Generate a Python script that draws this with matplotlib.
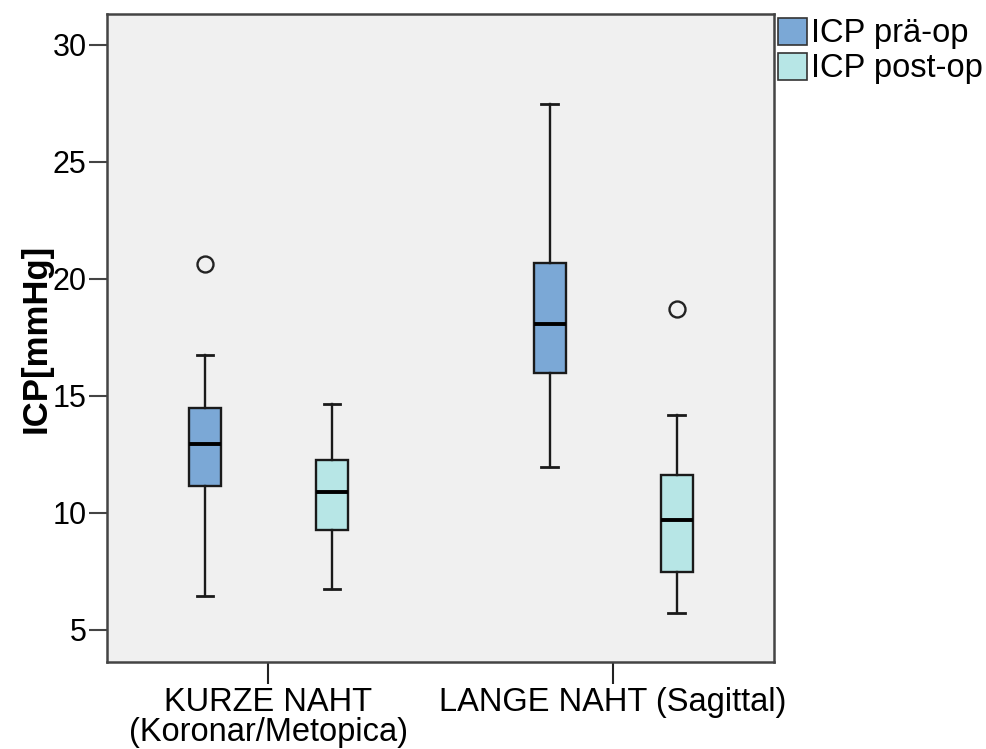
import matplotlib
matplotlib.use("Agg")
import matplotlib.pyplot as plt
from matplotlib.patches import Patch

plt.rcParams['font.family'] = ['Liberation Sans', 'DejaVu Sans']

categories = ["KURZE NAHT\n(Koronar/Metopica)", "LANGE NAHT (Sagittal)"]
series = ["ICP prä-op", "ICP post-op"]
colors = ["#7BA8D6", "#B7E6E6"]

# per category: [pre, post] -> (low whisker, Q1, median, Q3, high whisker)
whis_low = [[6.45, 6.76], [11.96, 5.73]]
q1 = [[11.15, 9.28], [15.99, 7.46]]
med = [[12.96, 10.89], [18.07, 9.69]]
q3 = [[14.47, 12.26], [20.69, 11.61]]
whis_high = [[16.73, 14.64], [27.46, 14.17]]
outliers = [[[20.63], []], [[], [18.70]]]

yticks = [5, 10, 15, 20, 25, 30]

fig = plt.figure(figsize=(9.86, 7.49), dpi=100)
ax = fig.add_axes([0.109, 0.1162, 0.676, 0.8651])
ax.set_facecolor("#F0F0F0")

offset = 0.1843
width = 0.093
for ci in range(len(categories)):
    for si in range(len(series)):
        st = dict(whislo=whis_low[ci][si], q1=q1[ci][si], med=med[ci][si],
                  q3=q3[ci][si], whishi=whis_high[ci][si], fliers=outliers[ci][si])
        pos = ci + (-offset if si == 0 else offset)
        ax.bxp([st], positions=[pos], widths=width, patch_artist=True,
               showfliers=True, capwidths=0.048,
               boxprops=dict(facecolor=colors[si], edgecolor="#1a1a1a", linewidth=1.7),
               medianprops=dict(color="black", linewidth=2.8),
               whiskerprops=dict(color="#1a1a1a", linewidth=1.7),
               capprops=dict(color="#1a1a1a", linewidth=2.0),
               flierprops=dict(marker="o", markerfacecolor="none",
                               markeredgecolor="#222222", markersize=11.5,
                               markeredgewidth=1.7))

ax.set_xlim(-0.467, 1.467)
ax.set_ylim(3.63, 31.31)
ax.set_xticks([0, 1])
ax.set_xticklabels(categories, fontsize=23.5, linespacing=0.95)
ax.set_yticks(yticks)
ax.set_yticklabels([str(t) for t in yticks], fontsize=22)
ax.tick_params(axis='y', length=13, width=1.5, color="#444444", pad=2)
ax.tick_params(axis='x', length=16, width=1.5, color="#222222", pad=2)
for s in ax.spines.values():
    s.set_color("#444444")
    s.set_linewidth(1.8)
ax.set_ylabel("ICP[mmHg]", fontsize=25, fontweight="bold", labelpad=0)

handles = [Patch(facecolor=c, edgecolor="#333333", linewidth=1.2) for c in colors]
fig.legend(handles, series, loc="upper left", bbox_to_anchor=(0.786, 0.9807),
           frameon=False, fontsize=23.5, handlelength=0.89, handleheight=0.89,
           handletextpad=0.1, labelspacing=0.1, borderpad=0.1, borderaxespad=0)

fig.savefig("out.png", dpi=100)
